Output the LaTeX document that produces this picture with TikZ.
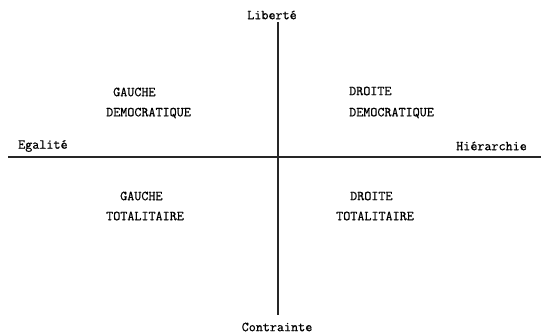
\documentclass[tikz,border=0pt]{standalone}
\usepackage{fontspec}
\setmonofont{Latin Modern Mono}[FakeBold=0.8]
\begin{document}
\begin{tikzpicture}[x=1pt,y=-1pt,
  lbl/.style={inner sep=0pt, font=\ttfamily\fontsize{13.7}{15}\selectfont},
  axis/.style={line width=1.4pt, color=black!85}]
\useasboundingbox (0,0) rectangle (541,334);
% axes
\coordinate (top) at (278,22);
\coordinate (bottom) at (278,315);
\coordinate (left) at (8,157);
\coordinate (right) at (541,157);
\draw[axis] (top) -- (bottom);
\draw[axis] (left) -- (right);

% axis labels
\node[lbl] (lib) at (272,15) {Liberté};
\node[lbl] (con) at (277,327) {Contrainte};
\node[lbl, anchor=west] (ega) at (18,146) {Egalité};
\node[lbl, anchor=east] (hie) at (527,146) {Hiérarchie};

% quadrants
\node[lbl, anchor=west] (gd1) at (113,92) {GAUCHE};
\node[lbl, anchor=west] (gd2) at (106,113) {DEMOCRATIQUE};
\node[lbl, anchor=west] (dd1) at (349,91) {DROITE};
\node[lbl, anchor=west] (dd2) at (349,113) {DEMOCRATIQUE};
\node[lbl, anchor=west] (gt1) at (120,196) {GAUCHE};
\node[lbl, anchor=west] (gt2) at (106,216) {TOTALITAIRE};
\node[lbl, anchor=west] (dt1) at (350,196) {DROITE};
\node[lbl, anchor=west] (dt2) at (336,216) {TOTALITAIRE};
\end{tikzpicture}
\end{document}
